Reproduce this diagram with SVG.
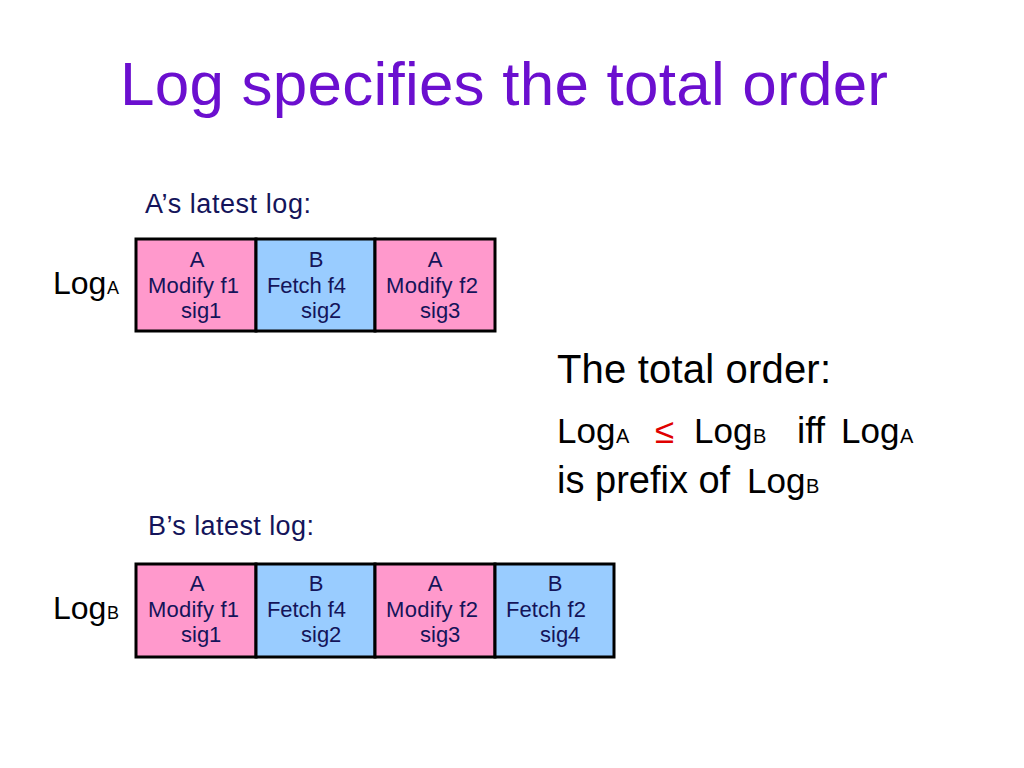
<svg xmlns="http://www.w3.org/2000/svg" width="1024" height="768" viewBox="0 0 1024 768">
<style>
.t{font-family:"Liberation Sans",Arial,sans-serif;}
.title{font-size:62px;fill:#6B0FCF;}
.lbl{font-size:27px;fill:#14145A;}
.cell{font-size:22px;fill:#14145A;}
.big{font-size:35px;fill:#000;}
.sub{font-size:20px;}
.pk{fill:#FF99CC;stroke:#000;stroke-width:3;}
.bl{fill:#99CCFF;stroke:#000;stroke-width:3;}
</style>
<rect width="1024" height="768" fill="#fff"/>
<text class="t title" x="120" y="105" textLength="768">Log specifies the total order</text>

<text class="t lbl" x="145" y="213" textLength="166">A’s latest log:</text>
<g id="logA-label"><text class="t big" y="294" style="font-size:32px"><tspan x="53">Log</tspan><tspan class="sub" x="107" style="font-size:18px">A</tspan></text></g>
<g id="logA">
<g id="a1"><rect class="pk" x="136" y="239" width="120" height="92"/>
<text class="t cell" x="197" y="267" text-anchor="middle">A</text>
<text class="t cell" x="148" y="293" textLength="91">Modify f1</text>
<text class="t cell" x="181" y="318">sig1</text></g>
<g id="a2"><rect class="bl" x="256" y="239" width="119" height="92"/>
<text class="t cell" x="316" y="267" text-anchor="middle">B</text>
<text class="t cell" x="267" y="293" textLength="79">Fetch f4</text>
<text class="t cell" x="301" y="318">sig2</text></g>
<g id="a3"><rect class="pk" x="375" y="239" width="120" height="92"/>
<text class="t cell" x="435" y="267" text-anchor="middle">A</text>
<text class="t cell" x="386" y="293" textLength="92">Modify f2</text>
<text class="t cell" x="420" y="318">sig3</text></g>
</g>

<g id="order">
<text class="t big" x="557" y="383" style="font-size:40px" textLength="274">The total order:</text>
<text class="t big" y="443"><tspan x="557">Log</tspan><tspan class="sub" x="616">A</tspan><tspan x="655" fill="#E00000">≤</tspan><tspan x="694">Log</tspan><tspan class="sub" x="753">B</tspan><tspan x="797" style="font-size:37px">iff</tspan><tspan x="841">Log</tspan><tspan class="sub" x="900">A</tspan></text>
<text class="t big" y="493"><tspan x="557" style="font-size:38px">is prefix of</tspan><tspan x="747">Log</tspan><tspan class="sub" x="806">B</tspan></text>
</g>

<text class="t lbl" x="148" y="535" textLength="166">B’s latest log:</text>
<g id="logB-label"><text class="t big" y="619" style="font-size:32px"><tspan x="53">Log</tspan><tspan class="sub" x="107" style="font-size:18px">B</tspan></text></g>
<g id="logB">
<g id="b1"><rect class="pk" x="136" y="564" width="120" height="93"/>
<text class="t cell" x="197" y="591" text-anchor="middle">A</text>
<text class="t cell" x="148" y="617" textLength="91">Modify f1</text>
<text class="t cell" x="181" y="642">sig1</text></g>
<g id="b2"><rect class="bl" x="256" y="564" width="119" height="93"/>
<text class="t cell" x="316" y="591" text-anchor="middle">B</text>
<text class="t cell" x="267" y="617" textLength="79">Fetch f4</text>
<text class="t cell" x="301" y="642">sig2</text></g>
<g id="b3"><rect class="pk" x="375" y="564" width="120" height="93"/>
<text class="t cell" x="435" y="591" text-anchor="middle">A</text>
<text class="t cell" x="386" y="617" textLength="92">Modify f2</text>
<text class="t cell" x="420" y="642">sig3</text></g>
<g id="b4"><rect class="bl" x="495" y="564" width="119" height="93"/>
<text class="t cell" x="555" y="591" text-anchor="middle">B</text>
<text class="t cell" x="506" y="617" textLength="80">Fetch f2</text>
<text class="t cell" x="540" y="642">sig4</text></g>
</g>
<g id="connectors"/>
</svg>
